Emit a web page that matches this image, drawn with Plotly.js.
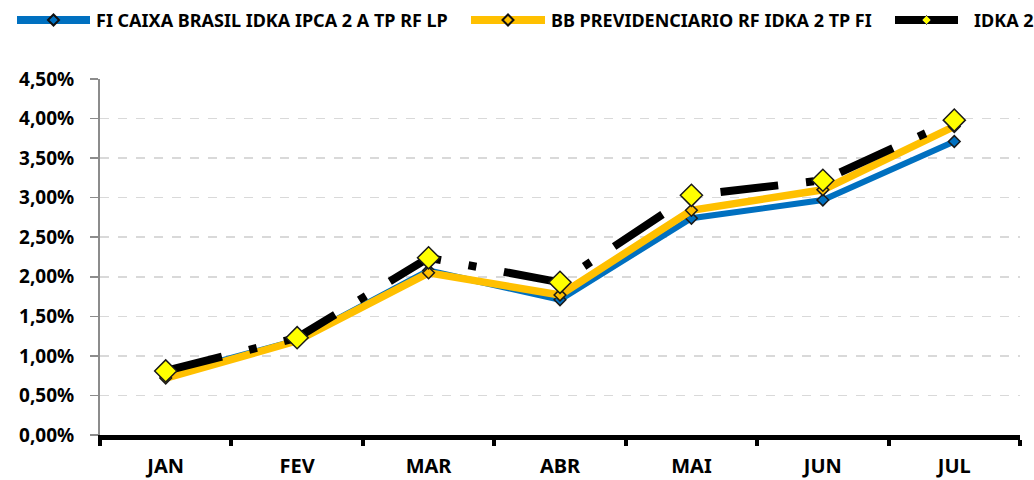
<!DOCTYPE html>
<html>
<head>
<meta charset="utf-8">
<script src="https://cdn.plot.ly/plotly-3.0.1.min.js"></script>
<style>html,body{margin:0;padding:0;background:#fff;}#chart{width:1034px;height:480px;}</style>
</head>
<body>
<div id="chart"></div>
<script>
const months = ["JAN", "FEV", "MAR", "ABR", "MAI", "JUN", "JUL"];
const caixa = [0.75, 1.20, 2.08, 1.71, 2.74, 2.97, 3.71];
const bbPrev = [0.72, 1.19, 2.05, 1.77, 2.84, 3.10, 3.90];
const idka2 = [0.81, 1.23, 2.24, 1.93, 3.03, 3.22, 3.98];
const names = ["FI CAIXA BRASIL IDKA IPCA 2 A TP RF LP", "BB PREVIDENCIARIO RF IDKA 2 TP FI", "IDKA 2"];
const lineColors = ["#0070C0", "#FFC000", "#000000"];
const markerColors = ["#0070C0", "#FFC000", "#FFFF00"];

const FONT = "Noto Sans, Open Sans, sans-serif";
const W = 1034, H = 480;
const M = {l: 100, r: 14, t: 79, b: 45};
const PW = W - M.l - M.r, PH = H - M.t - M.b;
const px = v => (v - M.l) / PW;          // pixel x -> paper x
const py = v => (H - M.b - v) / PH;      // pixel y -> paper y

const IDKA_DASH = "58px,28px,8px,28px";
const traces = [
  {x: months, y: caixa, name: names[0], type: "scatter", mode: "lines+markers",
   line: {color: lineColors[0], width: 6},
   marker: {symbol: "diamond", size: 9, color: markerColors[0], line: {color: "#1a1a1a", width: 1.5}}},
  {x: months, y: bbPrev, name: names[1], type: "scatter", mode: "lines+markers",
   line: {color: lineColors[1], width: 7.5},
   marker: {symbol: "diamond", size: 9, color: markerColors[1], line: {color: "#1a1a1a", width: 1.5}}},
  {x: months, y: idka2, name: names[2], type: "scatter", mode: "lines+markers",
   line: {color: lineColors[2], width: 8, dash: IDKA_DASH},
   marker: {symbol: "diamond", size: 17, color: markerColors[2], line: {color: "#1a1a1a", width: 1.5}}}
];

// custom legend (line segment + small diamond + label) laid out in one row like the original
const legendItems = [
  {x0: 17, x1: 90, tx: 95},
  {x0: 471, x1: 545, tx: 550},
  {x0: 895, x1: 958, tx: 973}
];
const LY = 20;
const shapes = [], annotations = [];
legendItems.forEach((it, i) => {
  shapes.push({type: "line", xref: "paper", yref: "paper", x0: px(it.x0), x1: px(it.x1), y0: py(LY), y1: py(LY),
    line: {color: lineColors[i], width: 8}});
  const cx = (it.x0 + it.x1) / 2, r = i === 2 ? 4.5 : 5.5;
  shapes.push({type: "path", xref: "paper", yref: "paper",
    path: `M ${px(cx - r)} ${py(LY)} L ${px(cx)} ${py(LY - r)} L ${px(cx + r)} ${py(LY)} L ${px(cx)} ${py(LY + r)} Z`,
    fillcolor: markerColors[i], line: {color: i === 2 ? "#333" : "#111", width: i === 2 ? 1 : 2}});
  annotations.push({xref: "paper", yref: "paper", x: px(it.tx), y: py(LY), xanchor: "left", yanchor: "middle",
    text: names[i], showarrow: false, borderpad: 0,
    font: {family: FONT, size: 18, color: "#000", weight: "bold"}});
});

const layout = {
  width: W, height: H,
  margin: M,
  paper_bgcolor: "#fff", plot_bgcolor: "#fff",
  separators: ",.",
  showlegend: false,
  shapes: shapes,
  annotations: annotations,
  xaxis: {type: "category", range: [-0.5, 6.5], showgrid: false, zeroline: false,
    showline: true, linecolor: "#000", linewidth: 5,
    ticks: "outside", tickson: "boundaries", ticklen: 6, tickwidth: 4, tickcolor: "#000",
    ticklabelstandoff: 9,
    tickfont: {family: FONT, size: 20, color: "#000", weight: "bold"}, fixedrange: true},
  yaxis: {range: [0, 4.5], dtick: 0.5, tick0: 0, tickformat: ".2f", ticksuffix: "%",
    showgrid: true, gridcolor: "#D9D9D9", griddash: "dash", gridwidth: 1.5,
    zeroline: false, showline: true, linecolor: "#8C8C8C", linewidth: 2,
    ticks: "outside", ticklen: 8, tickwidth: 1.5, tickcolor: "#8C8C8C",
    ticklabelstandoff: 12,
    tickfont: {family: FONT, size: 19, color: "#000", weight: "bold"}, fixedrange: true}
};
Plotly.newPlot("chart", traces, layout, {displayModeBar: false, staticPlot: true});
</script>
</body>
</html>
